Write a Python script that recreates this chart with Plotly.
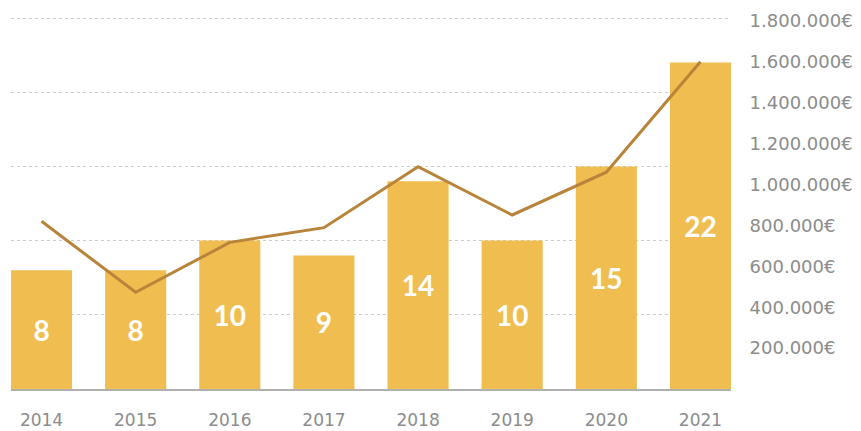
import plotly.graph_objects as go

years = ["2014", "2015", "2016", "2017", "2018", "2019", "2020", "2021"]
counts = [8, 8, 10, 9, 14, 10, 15, 22]
amounts = [820000, 473000, 717000, 789000, 1087000, 851000, 1060000, 1600000]

right_ticks = [200000, 400000, 600000, 800000, 1000000, 1200000, 1400000, 1600000, 1800000]
right_labels = [f"{v:,}".replace(",", ".") + "€" for v in right_ticks]

bar_color = "#F0BD51"
line_color = "#B8843A"
tick_font = "DejaVu Sans"
num_font = "Lato"

fig = go.Figure()
fig.add_trace(go.Bar(
    x=years, y=counts, marker_color=bar_color, marker_line_width=0,
    text=[str(c) for c in counts], textposition="inside", insidetextanchor="middle",
    textfont=dict(family=num_font, size=28, color="white", weight="bold"),
    textangle=0, yaxis="y", hoverinfo="skip",
))
fig.add_trace(go.Scatter(
    x=years, y=amounts, mode="lines", line=dict(color=line_color, width=3),
    yaxis="y2", hoverinfo="skip",
))

fig.update_layout(
    width=853, height=423,
    margin=dict(l=3, r=130, t=2, b=42, autoexpand=False),
    paper_bgcolor="white", plot_bgcolor="white",
    showlegend=False,
    bargap=0.351,
    font=dict(family=tick_font, color="#8c8c8c"),
    xaxis=dict(
        type="category", range=[-0.3245, 7.3245], automargin=False,
        showline=True, linecolor="#b0b0b0", linewidth=2,
        ticks="outside", ticklen=15, tickcolor="rgba(0,0,0,0)",
        tickfont=dict(family=tick_font, size=17, color="#8c8c8c"),
        showgrid=False, zeroline=False,
    ),
    yaxis=dict(
        range=[0, 25.54], tickvals=[5, 10, 15, 20, 25], automargin=False,
        showticklabels=False, showgrid=True,
        gridcolor="#cccccc", griddash="dot", gridwidth=1,
        zeroline=False, showline=False,
    ),
    yaxis2=dict(
        overlaying="y", side="right", range=[0, 1853300], automargin=False,
        tickvals=right_ticks, ticktext=right_labels,
        showgrid=False, zeroline=False, showline=False,
        ticks="outside", ticklen=14, tickcolor="rgba(0,0,0,0)",
        tickfont=dict(family=tick_font, size=18, color="#8c8c8c"),
    ),
)

fig.write_html("out.html")
